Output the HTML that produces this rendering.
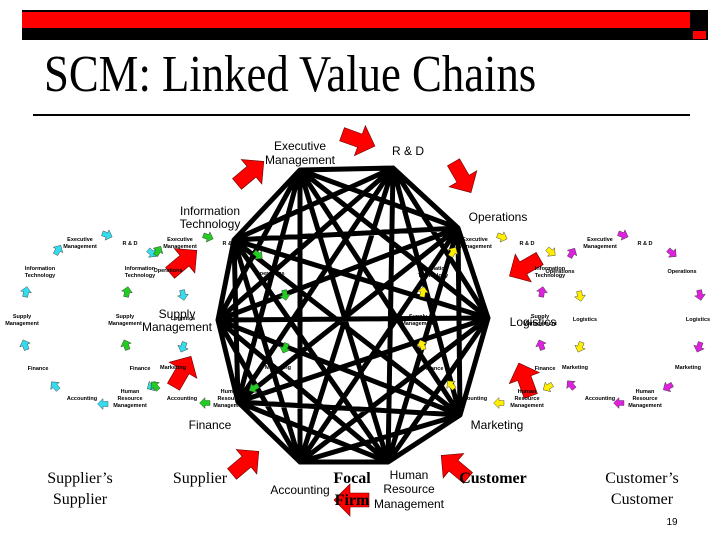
<!DOCTYPE html>
<html><head><meta charset="utf-8"><style>
html,body{margin:0;padding:0;background:#fff}
svg{display:block}
.s{font-family:"Liberation Sans",sans-serif}
.t{font-family:"Liberation Sans",sans-serif;font-size:5.5px;font-weight:bold;text-anchor:middle}
.m{font-family:"Liberation Sans",sans-serif;font-size:12px;text-anchor:middle}
.r{font-family:"Liberation Serif",serif;font-size:16px;text-anchor:middle}
</style></head><body>
<svg width="720" height="540" viewBox="0 0 720 540" xmlns="http://www.w3.org/2000/svg">
<defs>
<path id="ar" d="M-17,-7 L2,-7 L2,-16 L18,0 L2,16 L2,7 L-17,7Z" stroke="#600" stroke-width="0.6"/>
<path id="sa" d="M-5,-2.5 L0,-2.5 L0,-5.5 L5.5,0 L0,5.5 L0,2.5 L-5,2.5Z" stroke="#333" stroke-width="0.4"/>
</defs>
<rect x="22" y="10" width="686" height="30" fill="#000"/>
<rect x="22" y="12" width="668" height="16" fill="#f00"/>
<rect x="693" y="31" width="13" height="8" fill="#f00"/>
<text transform="translate(44,91) scale(0.86,1)" font-family="Liberation Serif,serif" font-size="52">SCM: Linked Value Chains</text>
<rect x="33" y="114" width="657" height="2" fill="#000"/>

<path fill="none" stroke="#000" stroke-width="5" stroke-linecap="round" stroke-linejoin="round" d="
M300,170 L393,168 M300,170 L458,228 M300,170 L488,318 M300,170 L460,415 M300,170 L388,462 M300,170 L300,462 M300,170 L238,402 M300,170 L218,320 M300,170 L234,240
M393,168 L458,228 M393,168 L488,318 M393,168 L460,415 M393,168 L388,462 M393,168 L300,462 M393,168 L238,402 M393,168 L218,320 M393,168 L234,240
M458,228 L488,318 M458,228 L460,415 M458,228 L388,462 M458,228 L300,462 M458,228 L238,402 M458,228 L218,320 M458,228 L234,240
M488,318 L460,415 M488,318 L388,462 M488,318 L300,462 M488,318 L238,402 M488,318 L218,320 M488,318 L234,240
M460,415 L388,462 M460,415 L300,462 M460,415 L238,402 M460,415 L218,320 M460,415 L234,240
M388,462 L300,462 M388,462 L238,402 M388,462 L218,320 M388,462 L234,240
M300,462 L238,402 M300,462 L218,320 M300,462 L234,240
M238,402 L218,320 M238,402 L234,240
M218,320 L234,240"/>

<!-- central labels -->
<text class="m" x="300" y="150">Executive</text><text class="m" x="300" y="164">Management</text>
<text class="m" x="408" y="155">R &amp; D</text>
<text class="m" x="210" y="215">Information</text><text class="m" x="210" y="228">Technology</text>
<text class="m" x="498" y="221">Operations</text>
<text class="m" x="177" y="318" font-size="14">Supply</text><text class="m" x="177" y="331" font-size="14">Management</text>
<text class="m" x="533" y="326" font-size="14">Logistics</text>
<text class="m" x="210" y="429">Finance</text>
<text class="m" x="497" y="429">Marketing</text>

<!-- red big arrows -->
<g fill="#f00">
<use href="#ar" transform="translate(358,140) rotate(20)"/>
<use href="#ar" transform="translate(250,173) rotate(-40)"/>
<use href="#ar" transform="translate(462,177) rotate(60)"/>
<use href="#ar" transform="translate(525,267) rotate(150)"/>
<use href="#ar" transform="translate(525,380) rotate(-110)"/>
<use href="#ar" transform="translate(455,467) rotate(220)"/>
<use href="#ar" transform="translate(352,500) rotate(180)"/>
<use href="#ar" transform="translate(245,463) rotate(-40)"/>
<use href="#ar" transform="translate(183,262) rotate(-40)"/>
<use href="#ar" transform="translate(182,372) rotate(-60)"/>
</g>

<!-- cyan ring -->
<g class="t">
<text x="80" y="241">Executive</text><text x="80" y="248">Management</text>
<text x="130" y="245">R &amp; D</text>
<text x="40" y="270">Information</text><text x="40" y="277">Technology</text>
<text x="22" y="318">Supply</text><text x="22" y="325">Management</text>
<text x="38" y="370">Finance</text>
<text x="82" y="400">Accounting</text>
<text x="130" y="393">Human</text><text x="130" y="400">Resource</text><text x="130" y="407">Management</text>
<text x="168" y="272">Operations</text>
<text x="183" y="320">Logistics</text>
<text x="173" y="369">Marketing</text>
</g>
<g fill="#3de">
<use href="#sa" transform="translate(58,250) rotate(-60)"/>
<use href="#sa" transform="translate(107,235) rotate(20)"/>
<use href="#sa" transform="translate(26,292) rotate(-80)"/>
<use href="#sa" transform="translate(25,345) rotate(-110)"/>
<use href="#sa" transform="translate(55,386) rotate(-130)"/>
<use href="#sa" transform="translate(103,404) rotate(180)"/>
<use href="#sa" transform="translate(152,253) rotate(40)"/>
<use href="#sa" transform="translate(183,295) rotate(80)"/>
<use href="#sa" transform="translate(183,347) rotate(110)"/>
<use href="#sa" transform="translate(152,386) rotate(150)"/>
</g>
<!-- green ring -->
<g class="t">
<text x="180" y="241">Executive</text><text x="180" y="248">Management</text>
<text x="230" y="245">R &amp; D</text>
<text x="140" y="270">Information</text><text x="140" y="277">Technology</text>
<text x="125" y="318">Supply</text><text x="125" y="325">Management</text>
<text x="140" y="370">Finance</text>
<text x="182" y="400">Accounting</text>
<text x="230" y="393">Human</text><text x="230" y="400">Resource</text><text x="230" y="407">Management</text>
<text x="270" y="275">Operations</text>
<text x="278" y="369">Marketing</text>
</g>
<g fill="#2c2">
<use href="#sa" transform="translate(208,237) rotate(20)"/>
<use href="#sa" transform="translate(258,255) rotate(40)"/>
<use href="#sa" transform="translate(285,295) rotate(80)"/>
<use href="#sa" transform="translate(285,348) rotate(110)"/>
<use href="#sa" transform="translate(254,388) rotate(150)"/>
<use href="#sa" transform="translate(205,403) rotate(180)"/>
<use href="#sa" transform="translate(155,386) rotate(-130)"/>
<use href="#sa" transform="translate(126,345) rotate(-110)"/>
<use href="#sa" transform="translate(127,292) rotate(-80)"/>
<use href="#sa" transform="translate(158,251) rotate(-60)"/>
</g>
<!-- yellow ring -->
<g class="t">
<text x="475" y="241">Executive</text><text x="475" y="248">Management</text>
<text x="527" y="245">R &amp; D</text>
<text x="433" y="270">Information</text><text x="433" y="277">Technology</text>
<text x="418" y="318">Supply</text><text x="418" y="325">Management</text>
<text x="433" y="370">Finance</text>
<text x="472" y="400">Accounting</text>
<text x="527" y="393">Human</text><text x="527" y="400">Resource</text><text x="527" y="407">Management</text>
<text x="560" y="273">Operations</text>
<text x="585" y="321">Logistics</text>
<text x="575" y="369">Marketing</text>
</g>
<g fill="#fe0">
<use href="#sa" transform="translate(502,237) rotate(20)"/>
<use href="#sa" transform="translate(551,252) rotate(40)"/>
<use href="#sa" transform="translate(580,296) rotate(80)"/>
<use href="#sa" transform="translate(580,347) rotate(110)"/>
<use href="#sa" transform="translate(548,387) rotate(150)"/>
<use href="#sa" transform="translate(499,403) rotate(180)"/>
<use href="#sa" transform="translate(451,385) rotate(-130)"/>
<use href="#sa" transform="translate(422,345) rotate(-110)"/>
<use href="#sa" transform="translate(423,292) rotate(-80)"/>
<use href="#sa" transform="translate(453,252) rotate(-60)"/>
</g>
<!-- magenta ring -->
<g class="t">
<text x="600" y="241">Executive</text><text x="600" y="248">Management</text>
<text x="645" y="245">R &amp; D</text>
<text x="550" y="270">Information</text><text x="550" y="277">Technology</text>
<text x="540" y="318">Supply</text><text x="540" y="325">Management</text>
<text x="545" y="370">Finance</text>
<text x="600" y="400">Accounting</text>
<text x="645" y="393">Human</text><text x="645" y="400">Resource</text><text x="645" y="407">Management</text>
<text x="682" y="273">Operations</text>
<text x="698" y="321">Logistics</text>
<text x="688" y="369">Marketing</text>
</g>
<g fill="#d2d">
<use href="#sa" transform="translate(623,235) rotate(20)"/>
<use href="#sa" transform="translate(672,253) rotate(40)"/>
<use href="#sa" transform="translate(700,295) rotate(80)"/>
<use href="#sa" transform="translate(699,347) rotate(110)"/>
<use href="#sa" transform="translate(668,387) rotate(150)"/>
<use href="#sa" transform="translate(619,403) rotate(180)"/>
<use href="#sa" transform="translate(571,385) rotate(-130)"/>
<use href="#sa" transform="translate(541,345) rotate(-110)"/>
<use href="#sa" transform="translate(542,292) rotate(-80)"/>
<use href="#sa" transform="translate(572,253) rotate(-60)"/>
</g>

<!-- bottom labels -->
<text class="r" x="80" y="483">Supplier’s</text><text class="r" x="80" y="504">Supplier</text>
<text class="r" x="200" y="483">Supplier</text>
<text class="r" x="352" y="483" font-weight="bold">Focal</text><text class="r" x="352" y="505" font-weight="bold">Firm</text>
<text class="m" x="300" y="494">Accounting</text>
<text class="m" x="409" y="479">Human</text><text class="m" x="409" y="493">Resource</text><text class="m" x="409" y="508">Management</text>
<text class="r" x="493" y="483" font-weight="bold">Customer</text>
<text class="r" x="642" y="483">Customer’s</text><text class="r" x="642" y="504">Customer</text>
<text x="672" y="525" class="s" font-size="10" text-anchor="middle">19</text>
</svg>
</body></html>
